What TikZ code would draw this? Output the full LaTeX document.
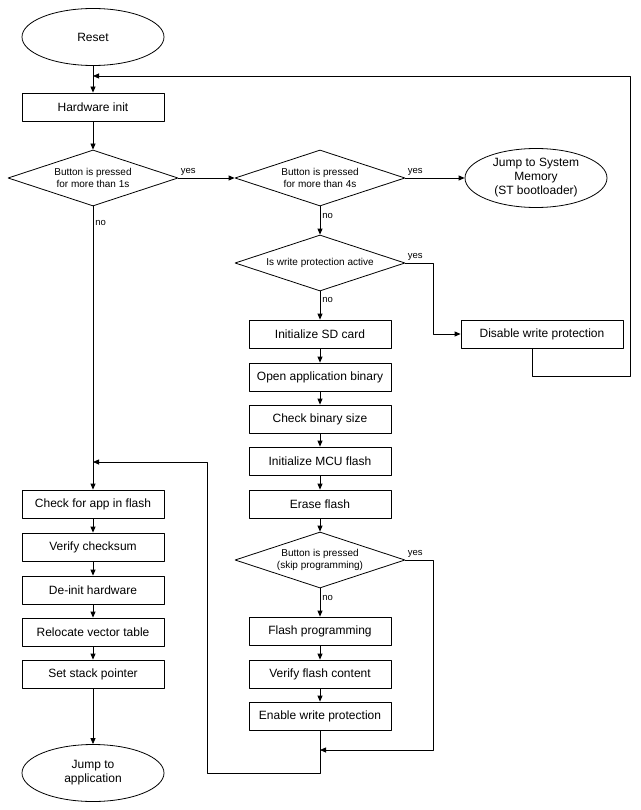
\documentclass[tikz,border=0pt]{standalone}
\usepackage{fontspec}
\setmainfont{Liberation Sans}
\usetikzlibrary{shapes.geometric,arrows.meta}
\begin{document}
\begin{tikzpicture}[line join=round,>={Triangle[length=6pt,width=5pt]},x=1pt,y=-1pt,line width=.8pt,
	box/.style={draw,minimum width=142pt,minimum height=28pt,inner sep=0pt,font=\fontsize{12}{14}\selectfont},
	term/.style={draw,ellipse,minimum width=142pt,minimum height=57pt,inner sep=0pt,align=center,font=\fontsize{12}{14}\selectfont},
	decision/.style={draw,diamond,aspect=3,minimum width=170pt,minimum height=56pt,inner sep=0pt,align=center,font=\fontsize{10}{12}\selectfont},
	lbl/.style={font=\fontsize{9.5}{11}\selectfont,inner sep=2pt}]
	\useasboundingbox (0,0) rectangle (640,810);
	% left column
	\node[term] (reset) at (93,37) {Reset};
	\node[box] (hwinit) at (93,107) {Hardware init};
	\node[decision] (btn1) at (93,178) {Button is pressed\\for more than 1s};
	\node[box] (checkapp) at (93,504) {Check for app in flash};
	\node[box] (checksum) at (93,547) {Verify checksum};
	\node[box] (deinit) at (93,590) {De-init hardware};
	\node[box] (relocate) at (93,632) {Relocate vector table};
	\node[box] (stack) at (93,674) {Set stack pointer};
	\node[term] (jumpapp) at (93,773) {Jump to\\application};
	% middle column
	\node[decision] (btn4) at (320,178) {Button is pressed\\for more than 4s};
	\node[decision] (wp) at (320,263) {Is write protection active};
	\node[box] (sdinit) at (320,334) {Initialize SD card};
	\node[box] (openbin) at (320,377) {Open application binary};
	\node[box] (binsize) at (320,419) {Check binary size};
	\node[box] (mcuflash) at (320,461) {Initialize MCU flash};
	\node[box] (erase) at (320,504) {Erase flash};
	\node[decision] (skip) at (320,560) {Button is pressed\\(skip programming)};
	\node[box] (flashprog) at (320,631) {Flash programming};
	\node[box] (verify) at (320,674) {Verify flash content};
	\node[box] (enablewp) at (320,716) {Enable write protection};
	% right column
	\node[term,minimum height=59pt] (sysmem) at (536,178) {Jump to System\\Memory\\(ST bootloader)};
	\node[box,minimum width=162pt] (disable) at (542,334) {Disable write protection};
	\coordinate (loopA) at (630,376);
	\coordinate (loopB) at (93,76);
	\coordinate (backA) at (207,773);
	\coordinate (backB) at (93,462);
	\coordinate (wpturn) at (433,263);
	\coordinate (skipturn) at (433,560);
	\coordinate (merge) at (320,750);
	% straight arrows
	\foreach \a/\b in {reset/hwinit,hwinit/btn1,sdinit/openbin,openbin/binsize,binsize/mcuflash,mcuflash/erase,erase/skip,flashprog/verify,verify/enablewp,checkapp/checksum,checksum/deinit,deinit/relocate,relocate/stack,stack/jumpapp}
	\draw[->] (\a) -- (\b);
	% decisions
	\draw[->] (btn1.east) node[lbl,above right] {yes} -- (btn4.west);
	\draw[->] (btn1.south) -- node[lbl,right,pos=.06] {no} (checkapp.north);
	\draw[->] (btn4.east) node[lbl,above right] {yes} -- (sysmem.west);
	\draw[->] (btn4.south) -- node[lbl,right,pos=.35] {no} (wp.north);
	\draw[->] (wp.east) node[lbl,above right] {yes} -- (wpturn) |- (disable.west);
	\draw[->] (wp.south) -- node[lbl,right,pos=.3] {no} (sdinit.north);
	\draw[->] (skip.east) node[lbl,above right] {yes} -- (skipturn) |- (merge);
	\draw[->] (skip.south) -- node[lbl,right,pos=.35] {no} (flashprog.north);
	% loops back
	\draw[->] ([xshift=-10pt]disable.south) |- (loopA) |- (loopB);
	\draw[->] (enablewp.south) |- (backA) |- (backB);
\end{tikzpicture}
\end{document}
